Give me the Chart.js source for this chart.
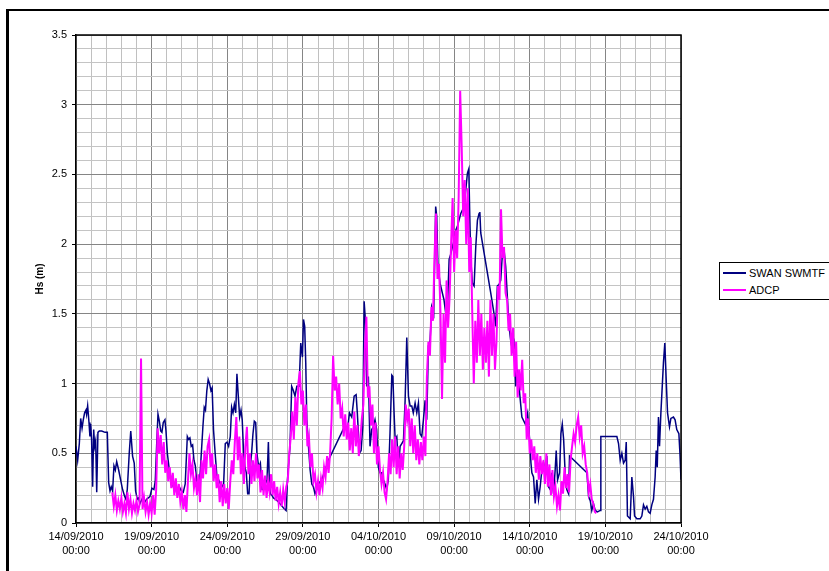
<!DOCTYPE html>
<html>
<head>
<meta charset="utf-8">
<script src="https://cdn.jsdelivr.net/npm/chart.js@4.4.0/dist/chart.umd.min.js"></script>
<style>
    html, body { margin: 0; padding: 0; background: #fff; }
    body { width: 829px; height: 571px; overflow: hidden; position: relative; font-family: "Liberation Sans", Arial, sans-serif; }
    #cadre { position: absolute; left: 6px; top: 9px; width: 900px; height: 700px; border-left: 3px solid #000; border-top: 2px solid #000; }
    #hsChart { position: absolute; left: 0; top: 0; }
    #legende { position: absolute; left: 719px; top: 262px; width: 130px; height: 36px; border: 1px solid #000; background: #fff; font-size: 11px; color: #000; }
    .item { position: absolute; left: 3px; height: 14px; line-height: 14px; white-space: nowrap; }
    .trait { display: inline-block; width: 23px; height: 0; border-top: 2px solid; vertical-align: middle; margin-right: 3px; position: relative; top: -1px; }
</style>
</head>
<body>
<div id="cadre"></div>
<canvas id="hsChart" width="829" height="571"></canvas>
<div id="legende">
    <div class="item" style="top:3px"><span class="trait" style="border-color:#000080"></span>SWAN SWMTF</div>
    <div class="item" style="top:20px"><span class="trait" style="border-color:#ff00ff"></span>ADCP</div>
</div>
<script>
// Etiquettes de l'axe des temps (tous les 5 jours)
const dateLabels = ['14/09/2010', '19/09/2010', '24/09/2010', '29/09/2010', '04/10/2010', '09/10/2010', '14/10/2010', '19/10/2010', '24/10/2010'];
const heureLabel = '00:00';

// SWAN SWMTF : temps en jours depuis le 14/09/2010 00:00, Hs en m
const swanDays = [
    0, 0.11, 0.22, 0.31, 0.4, 0.48, 0.57, 0.66, 0.7, 0.77, 0.86, 0.92, 0.97, 1.03, 1.1, 1.17, 1.23, 1.3, 1.37, 1.45,
    1.54, 1.7, 1.92, 2.07, 2.16, 2.25, 2.33, 2.42, 2.51, 2.6, 2.69, 2.82, 2.95, 3.08, 3.22, 3.3, 3.39, 3.52, 3.62, 3.74,
    3.85, 3.94, 4.05, 4.14, 4.23, 4.36, 4.49, 4.67, 4.89, 5.02, 5.15, 5.24, 5.33, 5.42, 5.51, 5.6, 5.68, 5.77, 5.88, 5.95,
    6.04, 6.17, 6.3, 6.43, 6.56, 6.65, 6.74, 6.83, 6.96, 7.09, 7.22, 7.36, 7.44, 7.53, 7.62, 7.71, 7.8, 7.89, 7.97, 8.1,
    8.21, 8.39, 8.48, 8.56, 8.65, 8.74, 8.83, 8.92, 9.0, 9.09, 9.2, 9.32, 9.43, 9.54, 9.65, 9.76, 9.87, 9.98, 10.09, 10.2,
    10.29, 10.38, 10.47, 10.56, 10.64, 10.73, 10.82, 10.91, 10.99, 11.08, 11.17, 11.26, 11.35, 11.44, 11.52, 11.61, 11.7, 11.79, 11.88, 11.96,
    12.08, 12.19, 12.3, 12.41, 12.52, 12.63, 12.72, 12.78, 12.85, 12.95, 13.05, 13.2, 13.4, 13.55, 13.71, 13.89, 13.98, 14.15, 14.26, 14.37,
    14.48, 14.6, 14.75, 14.86, 14.97, 15.04, 15.12, 15.19, 15.26, 15.37, 15.48, 15.59, 15.7, 15.8, 15.92, 16.03, 16.25, 16.47, 16.69, 17.79,
    17.95, 18.08, 18.23, 18.39, 18.52, 18.6, 18.74, 18.85, 18.96, 19.05, 19.13, 19.22, 19.33, 19.44, 19.55, 19.66, 19.77, 19.88, 19.99, 20.1,
    20.21, 20.32, 20.43, 20.54, 20.65, 20.76, 20.88, 20.95, 21.03, 21.1, 21.21, 21.32, 21.43, 21.54, 21.65, 21.76, 21.87, 21.98, 22.09, 22.2,
    22.3, 22.42, 22.53, 22.64, 22.75, 22.86, 22.97, 23.08, 23.19, 23.3, 23.41, 23.52, 23.65, 23.78, 23.85, 23.93, 24.07, 24.22, 24.33, 24.45,
    24.56, 24.67, 24.78, 25.0, 25.11, 25.22, 25.44, 25.66, 25.77, 25.88, 25.97, 26.03, 26.1, 26.21, 26.32, 26.43, 26.54, 26.65, 26.7, 26.76,
    27.42, 27.64, 27.75, 27.86, 27.97, 28.08, 28.19, 28.3, 28.41, 28.52, 28.63, 28.74, 28.85, 28.96, 29.07, 29.18, 29.29, 29.48, 29.7, 29.86,
    29.99, 30.08, 30.14, 30.25, 30.36, 30.47, 30.58, 30.69, 30.8, 30.91, 31.02, 31.13, 31.24, 31.35, 31.46, 31.57, 31.68, 31.75, 31.84, 31.97,
    32.06, 32.15, 32.24, 32.34, 32.45, 32.57, 32.63, 33.78, 33.89, 34.0, 34.1, 34.21, 34.33, 34.48, 34.66, 34.7, 35.2, 35.76, 35.87, 35.98,
    36.09, 36.2, 36.31, 36.38, 36.46, 36.64, 36.75, 36.86, 36.93, 37.08, 37.3, 37.41, 37.52, 37.63, 37.74, 37.85, 37.96, 38.07, 38.18, 38.29,
    38.36, 38.43, 38.51, 38.58, 38.67, 38.76, 38.84, 38.93, 39.02, 39.11, 39.2, 39.24, 39.33, 39.5, 39.61, 39.72, 39.86, 39.93, 40
];
const swanHs = [
    0.55, 0.45, 0.57, 0.75, 0.68, 0.74, 0.79, 0.81, 0.78, 0.84, 0.72, 0.62, 0.71, 0.6, 0.26, 0.67, 0.55, 0.59, 0.22, 0.65,
    0.66, 0.66, 0.65, 0.65, 0.29, 0.23, 0.26, 0.23, 0.41, 0.38, 0.44, 0.38, 0.31, 0.24, 0.19, 0.17, 0.24, 0.5, 0.66, 0.48,
    0.43, 0.23, 0.17, 0.18, 0.14, 0.17, 0.14, 0.17, 0.19, 0.25, 0.24, 0.3, 0.55, 0.78, 0.73, 0.66, 0.65, 0.72, 0.74, 0.66,
    0.5, 0.38, 0.31, 0.26, 0.26, 0.22, 0.25, 0.26, 0.23, 0.22, 0.28, 0.62, 0.6, 0.61, 0.55, 0.56, 0.45, 0.41, 0.31, 0.26,
    0.36, 0.69, 0.83, 0.81, 0.95, 1.03, 1.0, 0.95, 0.97, 0.67, 0.5, 0.33, 0.31, 0.28, 0.26, 0.28, 0.57, 0.58, 0.55, 0.62,
    0.83, 0.79, 0.85, 0.79, 1.07, 0.91, 0.76, 0.81, 0.74, 0.5, 0.4, 0.36, 0.21, 0.21, 0.4, 0.5, 0.64, 0.73, 0.72, 0.5,
    0.4, 0.43, 0.24, 0.24, 0.28, 0.31, 0.58, 0.3, 0.21, 0.2, 0.18, 0.17, 0.15, 0.13, 0.11, 0.09, 0.31, 0.55, 0.98, 0.95,
    0.91, 0.98, 0.98, 1.29, 1.19, 1.46, 1.41, 1.15, 0.74, 0.55, 0.38, 0.28, 0.26, 0.21, 0.24, 0.28, 0.31, 0.38, 0.45, 0.7,
    0.67, 0.79, 0.76, 0.91, 0.92, 0.79, 0.5, 0.52, 0.69, 1.59, 1.46, 0.98, 1.05, 0.55, 0.67, 0.69, 0.74, 0.67, 0.4, 0.36,
    0.36, 0.31, 0.28, 0.24, 0.31, 0.64, 1.06, 1.05, 0.79, 0.6, 0.62, 0.4, 0.55, 0.57, 0.59, 0.88, 1.33, 0.91, 0.84, 0.84,
    0.79, 0.86, 0.79, 0.86, 0.64, 0.62, 0.74, 0.88, 0.74, 1.27, 1.31, 1.55, 1.5, 2.27, 2.2, 1.84, 1.72, 1.65, 1.6, 1.5,
    1.55, 1.89, 1.93, 2.03, 2.1, 2.13, 2.22, 2.27, 2.39, 2.51, 2.54, 2.22, 1.89, 1.72, 1.7, 1.98, 2.17, 2.22, 2.23, 2.08,
    1.65, 1.5, 1.41, 1.7, 1.71, 1.74, 1.93, 1.96, 1.84, 1.62, 1.41, 1.31, 1.24, 1.29, 0.98, 1.1, 0.98, 0.76, 0.71, 0.79,
    0.6, 0.43, 0.36, 0.33, 0.14, 0.31, 0.17, 0.26, 0.38, 0.43, 0.36, 0.48, 0.26, 0.24, 0.36, 0.21, 0.38, 0.52, 0.31, 0.36,
    0.64, 0.71, 0.6, 0.36, 0.24, 0.21, 0.48, 0.36, 0.19, 0.16, 0.09, 0.14, 0.09, 0.08, 0.09, 0.62, 0.62, 0.62, 0.57, 0.45,
    0.5, 0.43, 0.45, 0.58, 0.05, 0.03, 0.33, 0.19, 0.05, 0.03, 0.03, 0.05, 0.13, 0.1, 0.12, 0.08, 0.07, 0.13, 0.17, 0.33,
    0.52, 0.4, 0.76, 0.55, 0.79, 0.98, 1.15, 1.29, 1.03, 0.79, 0.72, 0.69, 0.75, 0.76, 0.74, 0.67, 0.64, 0.5, 0.31
];

// ADCP : une mesure tous les 0.1 jour à partir du 16/09/2010 00:00 (jour 2), une ligne par jour
const adcpDebut = 2;
const adcpPas = 0.1;
const adcpHs = [
    null, null, null, null, 0.22, 0.12, 0.2, 0.09, 0.16, 0.1,          // 16/09
    0.18, 0.08, 0.14, 0.07, 0.22, 0.1, 0.17, 0.07, 0.14, 0.09,         // 17/09
    0.16, 0.08, 0.13, 1.18, 0.1, 0.18, 0.08, 0.15, 0.06, 0.14,         // 18/09
    0.07, 0.2, 0.06, 0.24, 0.68, 0.5, 0.63, 0.42, 0.58, 0.36,          // 19/09
    0.45, 0.3, 0.4, 0.25, 0.36, 0.2, 0.32, 0.18, 0.28, 0.15,           // 20/09
    0.22, 0.1, 0.2, 0.08, 0.3, 0.5, 0.35, 0.42, 0.25, 0.32,            // 21/09
    0.2, 0.35, 0.15, 0.45, 0.32, 0.52, 0.35, 0.55, 0.6, 0.4,           // 22/09
    0.5, 0.3, 0.42, 0.25, 0.35, 0.15, 0.3, 0.12, 0.28, 0.14,           // 23/09
    0.25, 0.1, 0.3, 0.45, 0.35, 0.58, 0.76, 0.45, 0.62, 0.35,          // 24/09
    0.5, 0.28, 0.55, 0.69, 0.35, 0.5, 0.28, 0.45, 0.3, 0.5,            // 25/09
    0.32, 0.42, 0.22, 0.38, 0.2, 0.34, 0.18, 0.3, 0.22, 0.35,          // 26/09
    0.2, 0.3, 0.16, 0.26, 0.14, 0.22, 0.12, 0.24, 0.15, 0.26,          // 27/09
    0.3, 0.5, 0.62, 0.8, 0.6, 0.9, 0.7, 1.0, 1.09, 0.85,               // 28/09
    0.95, 0.7, 0.85, 0.55, 0.62, 0.4, 0.5, 0.3, 0.35, 0.22,            // 29/09
    0.3, 0.2, 0.32, 0.25, 0.4, 0.33, 0.48, 0.36, 0.5, 0.75,            // 30/09
    1.2, 0.95, 1.05, 0.85, 1.0, 0.75, 0.82, 0.62, 0.78, 0.6,           // 01/10
    0.72, 0.52, 0.68, 0.5, 0.8, 0.55, 0.7, 0.48, 0.6, 0.75,            // 02/10
    0.85, 1.25, 1.48, 0.9, 0.98, 0.7, 0.85, 0.5, 0.72, 0.42,           // 03/10
    0.55, 0.38, 0.28, 0.36, 0.22, 0.17, 0.3, 0.5, 0.35, 0.6,           // 04/10
    0.4, 0.62, 0.35, 0.55, 0.32, 0.5, 0.38, 0.55, 0.85, 0.74,          // 05/10
    0.82, 0.55, 0.75, 0.5, 0.7, 0.45, 0.6, 0.42, 0.58, 0.45,           // 06/10
    0.62, 0.48, 1.05, 1.3, 1.2, 1.55, 1.45, 1.9, 2.22, 1.75,           // 07/10
    1.86, 1.5, 0.89, 1.5, 1.15, 1.74, 1.4, 1.62, 2.0, 2.33,            // 08/10
    1.8, 2.1, 1.9, 2.34, 3.1, 2.7, 2.2, 2.46, 2.0, 2.4,                // 09/10
    1.8, 2.05, 1.5, 1.0, 1.45, 1.15, 1.6, 1.2, 1.5, 1.1,               // 10/10
    1.4, 1.15, 1.45, 1.05, 1.6, 1.2, 1.5, 1.1, 1.3, 1.7,               // 11/10
    1.6, 2.25, 1.9, 1.98, 1.65, 1.6, 1.38, 1.5, 1.2, 1.4,              // 12/10
    1.05, 1.3, 0.9, 1.1, 0.95, 1.17, 0.86, 0.93, 0.6, 0.75,            // 13/10
    0.5, 0.6, 0.45, 0.55, 0.36, 0.5, 0.31, 0.48, 0.35, 0.45,           // 14/10
    0.28, 0.5, 0.26, 0.42, 0.2, 0.38, 0.19, 0.26, 0.12, 0.2,           // 15/10
    0.09, 0.3, 0.21, 0.4, 0.25, 0.35, 0.22, 0.45, 0.55, 0.64,          // 16/10
    0.58, 0.7, 0.76, 0.62, 0.7, 0.5, 0.55, 0.42, 0.36, 0.22,           // 17/10
    0.28, 0.17, 0.14, 0.08, 0.07, null, null, null, null, null         // 18/10
];

const police = '"Liberation Sans", Arial, sans-serif';

function estMajeur(v) {
    return Math.abs(v * 2 - Math.round(v * 2)) < 1e-6;
}

// Cadre noir en haut et à droite de la zone de tracé
const cadrePlot = {
    id: 'cadrePlot',
    afterDatasetsDraw(chart) {
        const { ctx, chartArea: a } = chart;
        ctx.save();
        ctx.strokeStyle = '#000';
        ctx.lineWidth = 1.5;
        ctx.beginPath();
        ctx.moveTo(a.left, a.top);
        ctx.lineTo(a.right, a.top);
        ctx.lineTo(a.right, a.bottom);
        ctx.stroke();
        ctx.restore();
    }
};

function createChart() {
    const swanPoints = swanDays.map((d, i) => ({ x: d, y: swanHs[i] }));
    const adcpPoints = adcpHs.map((v, i) => ({ x: adcpDebut + i * adcpPas, y: v }));

    const ctx = document.getElementById('hsChart').getContext('2d');
    new Chart(ctx, {
        type: 'line',
        data: {
            datasets: [{
                label: 'SWAN SWMTF',
                data: swanPoints,
                borderColor: '#000080',
                borderWidth: 1.5,
                pointRadius: 0,
                tension: 0,
                order: 1
            }, {
                label: 'ADCP',
                data: adcpPoints,
                borderColor: '#ff00ff',
                borderWidth: 2,
                pointRadius: 0,
                tension: 0,
                spanGaps: false,
                order: 0
            }]
        },
        options: {
            responsive: false,
            animation: false,
            layout: { padding: { left: 0, top: 35, right: 148, bottom: 0 } },
            plugins: {
                legend: { display: false },
                tooltip: { enabled: false }
            },
            scales: {
                x: {
                    type: 'linear',
                    min: 0,
                    max: 40,
                    afterFit: s => { s.height = 48; },
                    ticks: {
                        stepSize: 1,
                        autoSkip: false,
                        maxRotation: 0,
                        padding: 3,
                        color: '#000',
                        font: { family: police, size: 11, lineHeight: 1.25 },
                        callback: v => (v % 5 === 0) ? [dateLabels[v / 5], heureLabel] : ''
                    },
                    grid: {
                        color: c => (c.tick && c.tick.value % 5 === 0) ? '#858585' : '#c0c0c0',
                        lineWidth: 1,
                        tickLength: 4,
                        tickColor: c => (c.tick && c.tick.value % 5 === 0) ? '#000' : 'rgba(0,0,0,0)'
                    },
                    border: { color: '#000', width: 1.5 }
                },
                y: {
                    min: 0,
                    max: 3.5,
                    afterFit: s => { s.width = 76; },
                    ticks: {
                        stepSize: 0.1,
                        autoSkip: false,
                        padding: 5,
                        color: '#000',
                        font: { family: police, size: 11 },
                        callback: v => estMajeur(v) ? String(Math.round(v * 10) / 10) : ''
                    },
                    grid: {
                        color: c => (c.tick && estMajeur(c.tick.value)) ? '#858585' : '#c4c4c4',
                        lineWidth: 1,
                        tickLength: 4,
                        tickColor: c => (c.tick && estMajeur(c.tick.value)) ? '#000' : 'rgba(0,0,0,0)'
                    },
                    border: { color: '#000', width: 1.5 },
                    title: {
                        display: true,
                        text: 'Hs (m)',
                        color: '#000',
                        font: { family: police, size: 10, weight: 'bold' },
                        padding: { top: 34, bottom: 0 }
                    }
                }
            }
        },
        plugins: [cadrePlot]
    });
}

document.addEventListener('DOMContentLoaded', createChart);
</script>
</body>
</html>
